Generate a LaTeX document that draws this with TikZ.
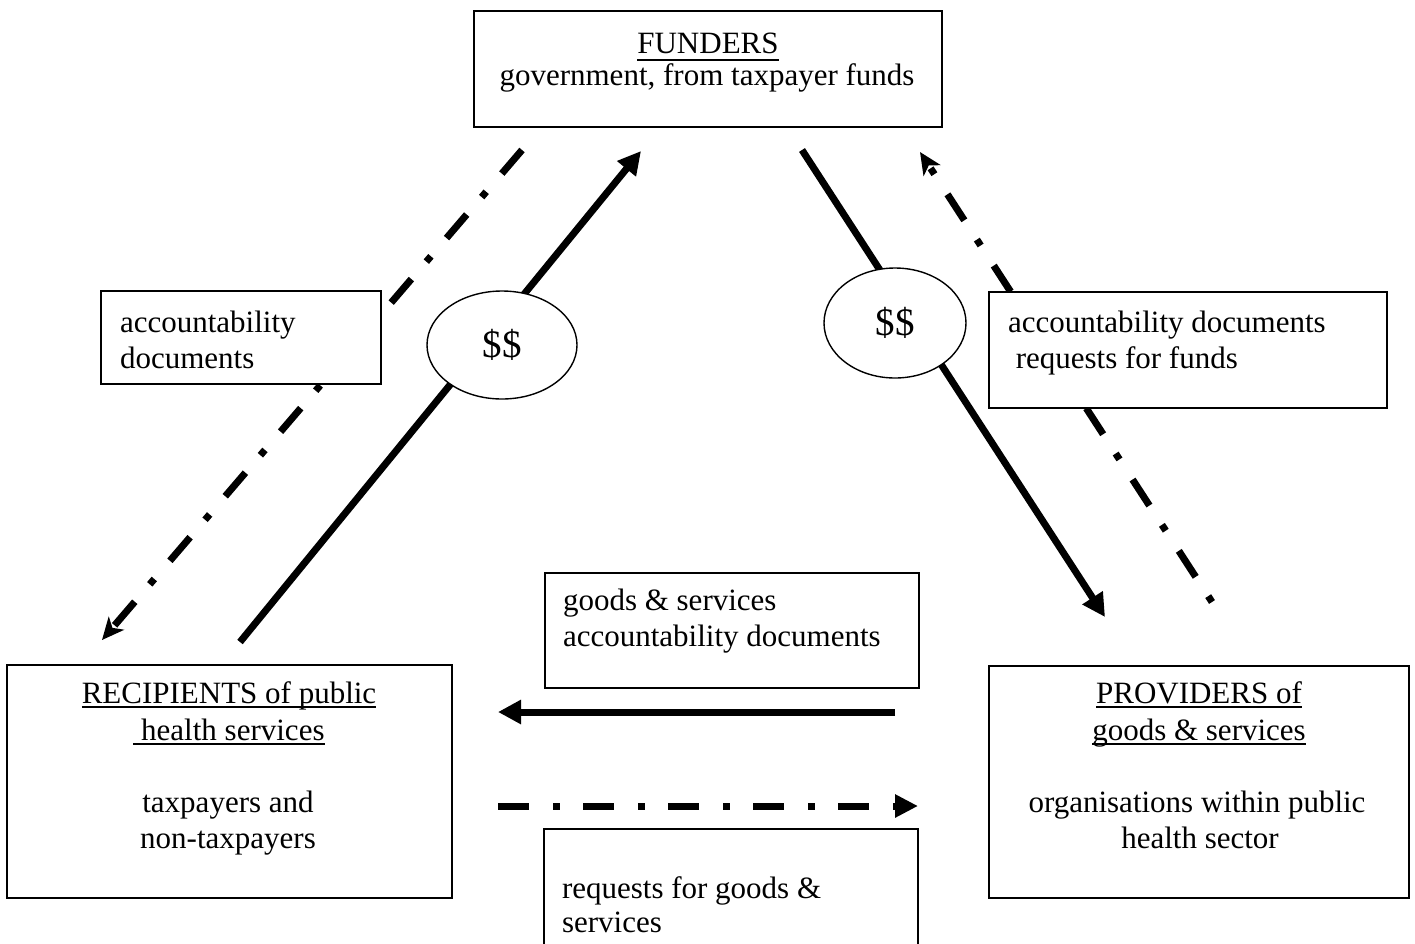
\documentclass[tikz,border=0pt]{standalone}
\usepackage{fontspec}
\setmainfont{Liberation Serif}
\usetikzlibrary{arrows.meta,shapes.geometric}
% underline with a chosen drop below the baseline
\newcommand\ulx[2][5pt]{\setbox0=\hbox{#2}\rlap{\rule[-#1]{\wd0}{1.8pt}}\box0}

\begin{document}
\begin{tikzpicture}[x=1pt,y=-1pt,
  every node/.style={inner sep=0pt, outer sep=0pt, font=\fontsize{31}{36}\selectfont},
  box/.style={draw, line width=1.6pt, fill=white, rectangle, anchor=north west},
  money/.style={draw, line width=1.4pt, fill=white, ellipse, font=\fontsize{39}{44}\selectfont},
  txt/.style={anchor=base west},
  ctxt/.style={anchor=base},
  flow/.style={line width=7pt, -{Triangle[length=23pt,width=23pt]}},
  docflow/.style={line width=7pt, dash pattern=on 31pt off 24pt on 7pt off 23pt},
  doctip/.style={-{Stealth[length=22pt,width=20pt,inset=6pt]}},
  doctri/.style={-{Triangle[length=23pt,width=22pt]}}
]
\useasboundingbox (0,0) rectangle (1415,943);
\fill[white] (0,0) rectangle (1415,943);

% connector end points
\coordinate (ldTop) at (522,150);
\coordinate (ldTip) at (102,640);
\coordinate (lsBot) at (240,642);
\coordinate (lsTip) at (641,151);
\coordinate (rsTop) at (802,150);
\coordinate (rsTip) at (1105,617);
\coordinate (rdBot) at (1212,602);
\coordinate (rdTip) at (920,152);
\coordinate (hsStart) at (895,712);
\coordinate (hsTip) at (498,712);
\coordinate (hdStart) at (498,806);
\coordinate (hdTip) at (918,806);

% flows of money, goods and documents
\draw[docflow, doctip] (ldTop) -- (ldTip);
\draw[flow] (lsBot) -- (lsTip);
\draw[flow] (rsTop) -- (rsTip);
\draw[line width=7pt, dash pattern=on 7pt off 23pt on 31pt off 24pt, doctip] (rdBot) -- (rdTip);
\draw[flow] (hsStart) -- (hsTip);
\draw[docflow, doctri] (hdStart) -- (hdTip);

% boxes
\node[box, minimum width=468pt, minimum height=116pt] (funders) at (474,11) {};
\node[box, minimum width=280pt, minimum height=93pt] (accL) at (101,291) {};
\node[box, minimum width=398pt, minimum height=116pt] (accR) at (989,292) {};
\node[box, minimum width=374pt, minimum height=115pt] (goodsU) at (545,573) {};
\node[box, minimum width=374pt, minimum height=130pt] (reqB) at (544,829) {};
\node[box, minimum width=445pt, minimum height=233pt] (recip) at (7,665) {};
\node[box, minimum width=420pt, minimum height=232pt] (prov) at (989,666) {};

% money ellipses
\node[money, minimum width=150pt, minimum height=108pt] (moneyL) at (502,345) {\$\$};
\node[money, minimum width=142pt, minimum height=110pt] (moneyR) at (895,323) {\$\$};

% texts
\node[ctxt] (fundersA) at (708,53) {\ulx[8pt]{FUNDERS}};
\node[ctxt] (fundersB) at (707,85) {government, from taxpayer funds};

\node[txt] (accLA) at (120,332) {accountability};
\node[txt] (accLB) at (120,368) {documents};

\node[txt] (accRA) at (1008,332) {accountability documents};
\node[txt] (accRB) at (1008,368) {\ requests for funds};

\node[txt] (goodsUA) at (563,610) {goods \& services};
\node[txt] (goodsUB) at (563,646) {accountability documents};

\node[txt] (reqBA) at (562,898) {requests for goods \&};
\node[txt] (reqBB) at (562,932) {services};

\node[ctxt] (recipA) at (229,703) {\ulx{RECIPIENTS of public}};
\node[ctxt] (recipB) at (229,740) {\ulx{\ health services}};
\node[ctxt] (recipC) at (228,812) {taxpayers and};
\node[ctxt] (recipD) at (228,848) {non-taxpayers};

\node[ctxt] (provA) at (1199,703) {\ulx{PROVIDERS of}};
\node[ctxt] (provB) at (1199,740) {\ulx{goods \& services}};
\node[ctxt] (provC) at (1197,812) {organisations within public};
\node[ctxt] (provD) at (1200,848) {health sector};
\end{tikzpicture}
\end{document}
